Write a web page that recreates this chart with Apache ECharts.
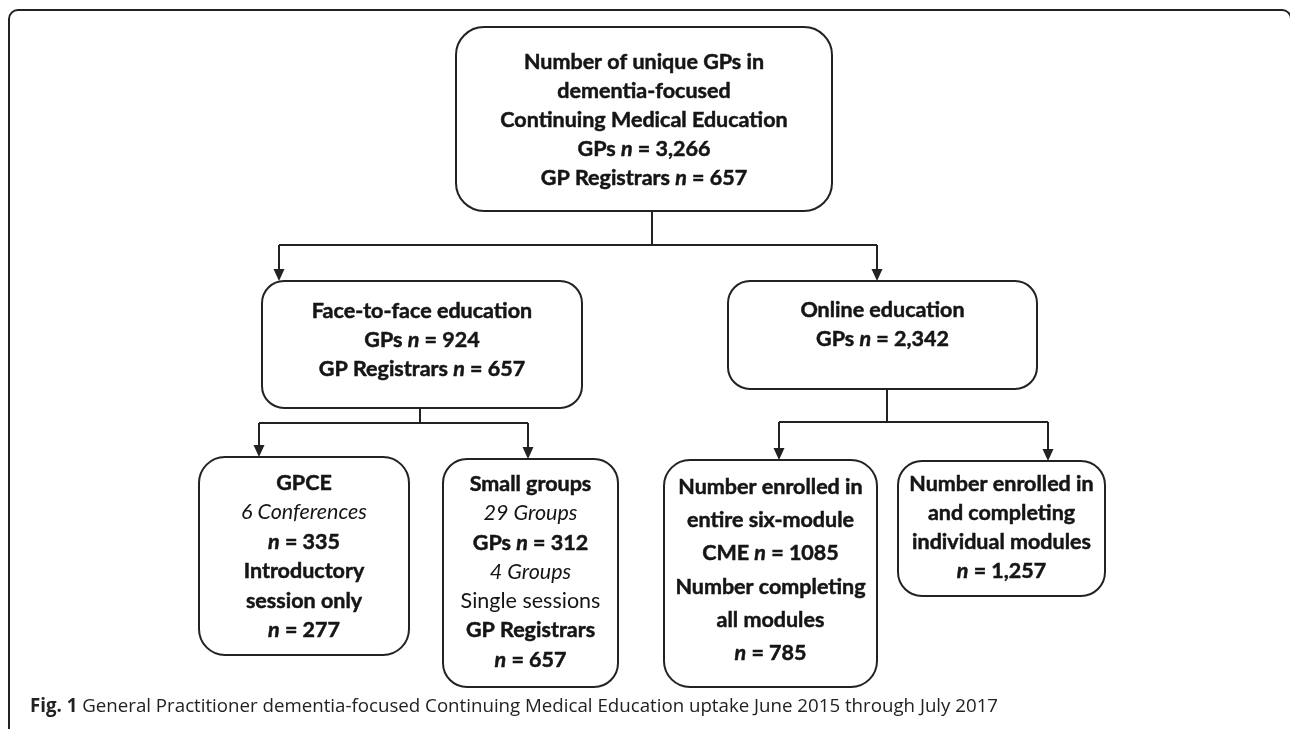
<!DOCTYPE html>
<html>
<head>
<meta charset="utf-8">
<script src="https://cdn.jsdelivr.net/npm/echarts@6/dist/echarts.min.js"></script>
<style>
  html, body { margin: 0; padding: 0; background: #fff; }
  #myChart { width: 1290px; height: 729px; }
</style>
</head>
<body>
<div id="myChart"></div>
<script>
// box texts ({b|} bold, {i|} italic, {bi|} bold italic, {r|} regular)
var topLines = [
  "{b|Number of unique GPs in}",
  "{b|dementia-focused}",
  "{b|Continuing Medical Education}",
  "{b|GPs }{bi|n}{b| = 3,266}",
  "{b|GP Registrars }{bi|n}{b| = 657}"
];
var faceLines = [
  "{b|Face-to-face education}",
  "{b|GPs }{bi|n}{b| = 924}",
  "{b|GP Registrars }{bi|n}{b| = 657}"
];
var onlineLines = [
  "{b|Online education}",
  "{b|GPs }{bi|n}{b| = 2,342}"
];
var gpceLines = [
  "{b|GPCE}",
  "{i|6 Conferences}",
  "{bi|n}{b| = 335}",
  "{b|Introductory}",
  "{b|session only}",
  "{bi|n}{b| = 277}"
];
var smallLines = [
  "{b|Small groups}",
  "{i|29 Groups}",
  "{b|GPs }{bi|n}{b| = 312}",
  "{i|4 Groups}",
  "{r|Single sessions}",
  "{b|GP Registrars}",
  "{bi|n}{b| = 657}"
];
var entireLines = [
  "{b|Number enrolled in}",
  "{b|entire six-module}",
  "{b|CME }{bi|n}{b| = 1085}",
  "{b|Number completing}",
  "{b|all modules}",
  "{bi|n}{b| = 785}"
];
var individualLines = [
  "{b|Number enrolled in}",
  "{b|and completing}",
  "{b|individual modules}",
  "{bi|n}{b| = 1,257}"
];
var caption = "{b|Fig. 1} General Practitioner dementia-focused Continuing Medical Education uptake June 2015 through July 2017";

// layout (pixel-like axis units, y downward)
var boxTexts = [topLines, faceLines, onlineLines, gpceLines, smallLines, entireLines, individualLines];
var boxLayout = [
  { x0: 456, x1: 832, y0: 27, y1: 211, r: 28, ty: 62, lh: 29 },
  { x0: 262, x1: 582, y0: 281, y1: 408, r: 22, ty: 311, lh: 29 },
  { x0: 728, x1: 1037, y0: 281, y1: 389, r: 22, ty: 310, lh: 29 },
  { x0: 199, x1: 409, y0: 457, y1: 655, r: 26, ty: 483, lh: 29.4 },
  { x0: 443, x1: 618, y0: 459, y1: 687, r: 24, ty: 484, lh: 29.3 },
  { x0: 664, x1: 877, y0: 460, y1: 687, r: 26, ty: 487, lh: 33.2 },
  { x0: 898, x1: 1105, y0: 461, y1: 596, r: 24, ty: 484, lh: 29 }
];
// parent -> children, with drop x, bus y and arrow x per child
var links = [
  { from: 0, dropX: 652, busY: 245, to: [1, 2], arrowX: [279, 877] },
  { from: 1, dropX: 420, busY: 423, to: [3, 4], arrowX: [259, 528] },
  { from: 2, dropX: 887, busY: 422, to: [5, 6], arrowX: [779, 1048] }
];

var fontFam = "Lato, 'Open Sans', sans-serif";
var fs = 21.5;
var ink = "#151515";
var rich = {
  b: { fontFamily: fontFam, fontWeight: "bold", fontSize: fs, fill: ink, stroke: ink, lineWidth: 0.5 },
  i: { fontFamily: fontFam, fontStyle: "italic", fontSize: fs, fill: ink },
  bi: { fontFamily: fontFam, fontWeight: "bold", fontStyle: "italic", fontSize: fs, fill: ink, stroke: ink, lineWidth: 0.5 },
  r: { fontFamily: fontFam, fontSize: fs, fill: ink }
};

var boxData = boxLayout.map(function (b, i) { return [b.x0, b.y0, b.x1, b.y1, i]; });
var linkData = links.map(function (l, i) { return [l.dropX, l.busY, i]; });

var myChart = echarts.init(document.getElementById("myChart"));
myChart.setOption({
  animation: false,
  grid: { left: 0, right: 0, top: 0, bottom: 0 },
  xAxis: { type: "value", min: 0, max: 1290, show: false },
  yAxis: { type: "value", min: 0, max: 729, inverse: true, show: false },
  title: {
    text: caption,
    left: 25,
    top: 692,
    textStyle: {
      fontFamily: "'Open Sans', sans-serif",
      fontSize: 18.7,
      fontWeight: "normal",
      color: "#222",
      rich: {
        b: { fontFamily: "'Open Sans', sans-serif", fontSize: 18.7, fontWeight: "bold", color: "#222" }
      }
    }
  },
  graphic: [
    {
      type: "rect",
      shape: { x: 9, y: 10, width: 1282, height: 760, r: 9 },
      style: { fill: "none", stroke: "#222", lineWidth: 2 },
      silent: true
    }
  ],
  series: [
    {
      type: "custom",
      coordinateSystem: "cartesian2d",
      data: linkData,
      renderItem: function (params, api) {
        var l = links[api.value(2)];
        var p = boxLayout[l.from];
        var children = [];
        var top = api.coord([l.dropX, p.y1]);
        var bus = api.coord([l.dropX, l.busY]);
        children.push({ type: "line", shape: { x1: top[0], y1: top[1], x2: bus[0], y2: bus[1] },
          style: { stroke: "#222", lineWidth: 2 } });
        var a = api.coord([l.arrowX[0], l.busY]);
        var b = api.coord([l.arrowX[l.arrowX.length - 1], l.busY]);
        children.push({ type: "line", shape: { x1: a[0], y1: a[1], x2: b[0], y2: b[1] },
          style: { stroke: "#222", lineWidth: 2 } });
        l.to.forEach(function (c, k) {
          var s = api.coord([l.arrowX[k], l.busY]);
          var e = api.coord([l.arrowX[k], boxLayout[c].y0]);
          children.push({ type: "line", shape: { x1: s[0], y1: s[1], x2: e[0], y2: e[1] - 10 },
            style: { stroke: "#222", lineWidth: 2 } });
          children.push({ type: "polygon",
            shape: { points: [[e[0] - 5.5, e[1] - 12], [e[0] + 5.5, e[1] - 12], [e[0], e[1]]] },
            style: { fill: "#222" } });
        });
        return { type: "group", children: children };
      },
      z: 1
    },
    {
      type: "custom",
      coordinateSystem: "cartesian2d",
      data: boxData,
      renderItem: function (params, api) {
        var idx = api.value(4);
        var b = boxLayout[idx];
        var p0 = api.coord([api.value(0), api.value(1)]);
        var p1 = api.coord([api.value(2), api.value(3)]);
        var children = [{
          type: "rect",
          shape: { x: p0[0], y: p0[1], width: p1[0] - p0[0], height: p1[1] - p0[1], r: b.r },
          style: { fill: "#fff", stroke: "#222", lineWidth: 2 }
        }];
        var cx = (p0[0] + p1[0]) / 2;
        boxTexts[idx].forEach(function (line, k) {
          var y = api.coord([0, b.ty + k * b.lh])[1];
          children.push({
            type: "text",
            style: {
              text: line, x: cx, y: y, align: "center", verticalAlign: "middle",
              rich: rich, fontFamily: fontFam, fontSize: fs, fill: ink
            }
          });
        });
        return { type: "group", children: children };
      },
      z: 2
    }
  ]
});
</script>
</body>
</html>
